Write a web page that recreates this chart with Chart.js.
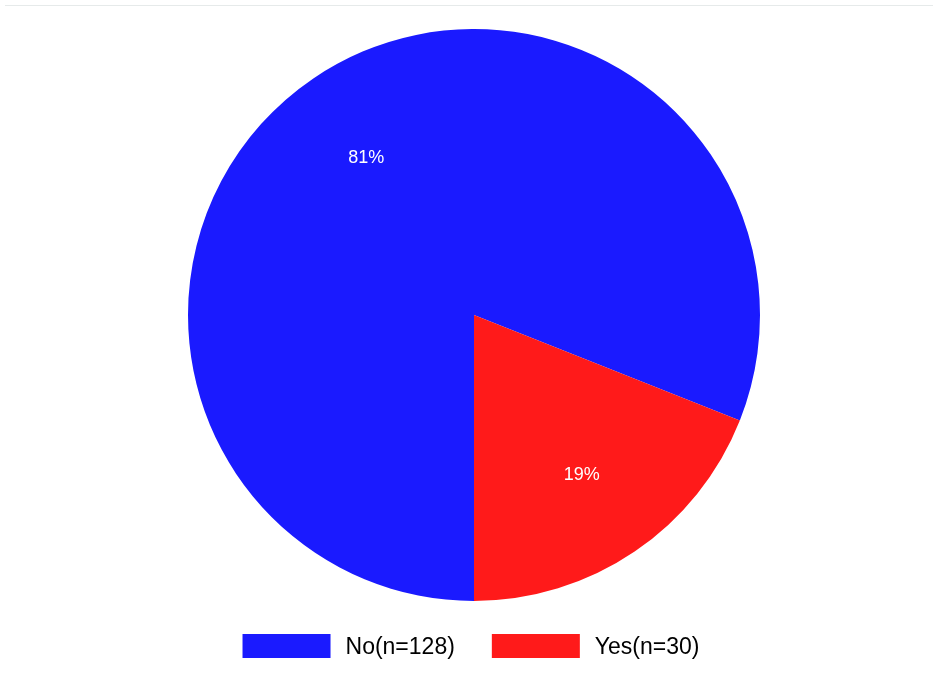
<!DOCTYPE html>
<html>
<head>
<meta charset="utf-8">
<script src="https://cdn.jsdelivr.net/npm/chart.js@4/dist/chart.umd.min.js"></script>
<style>
  html, body { margin: 0; padding: 0; background: #ffffff; }
  #wrap { position: relative; width: 933px; height: 682px; }
  #rule { position: absolute; top: 5px; left: 5px; right: 0; height: 1px; background: #e6eaea; }
  canvas { position: absolute; top: 0; left: 0; }
</style>
</head>
<body>
<div id="wrap">
  <div id="rule"></div>
  <canvas id="c" width="933" height="682"></canvas>
</div>
<script>
// Survey answers and counts
const categories = ['No', 'Yes'];
const counts = [128, 30];
const sliceColors = ['#1a1aff', '#ff1a1a'];

const total = counts.reduce((a, b) => a + b, 0);
const legendLabels = categories.map((c, i) => `${c}(n=${counts[i]})`);
const percentLabels = counts.map(v => Math.round(v / total * 100) + '%');

const FONT = '"Liberation Sans", Arial, sans-serif';

// White percentage text inside each slice
const sliceLabels = {
  id: 'sliceLabels',
  afterDatasetsDraw(chart) {
    const ctx = chart.ctx;
    const meta = chart.getDatasetMeta(0);
    ctx.save();
    ctx.font = '18px ' + FONT;
    ctx.fillStyle = '#ffffff';
    ctx.textAlign = 'center';
    ctx.textBaseline = 'middle';
    meta.data.forEach((arc, i) => {
      const p = arc.getProps(['x', 'y', 'startAngle', 'endAngle', 'outerRadius'], true);
      const mid = (p.startAngle + p.endAngle) / 2;
      const r = p.outerRadius * 0.67;
      ctx.fillText(percentLabels[i], p.x + Math.cos(mid) * r, p.y + Math.sin(mid) * r + 2);
    });
    ctx.restore();
  }
};

// Legend row under the pie
const bottomLegend = {
  id: 'bottomLegend',
  afterDraw(chart) {
    const ctx = chart.ctx;
    const area = chart.chartArea;
    const boxW = 88, boxH = 24, textGap = 15, itemGap = 37;
    ctx.save();
    ctx.font = '23px ' + FONT;
    const widths = legendLabels.map(t => ctx.measureText(t).width);
    let full = 0;
    widths.forEach((w, i) => { full += boxW + textGap + w + (i < widths.length - 1 ? itemGap : 0); });
    let x = (area.left + area.right) / 2 - 3 - full / 2;
    const top = 634;
    ctx.textBaseline = 'middle';
    ctx.textAlign = 'left';
    legendLabels.forEach((t, i) => {
      ctx.fillStyle = sliceColors[i];
      ctx.fillRect(x, top, boxW, boxH);
      ctx.fillStyle = '#000000';
      ctx.fillText(t, x + boxW + textGap, top + boxH / 2 + 2);
      x += boxW + textGap + widths[i] + itemGap;
    });
    ctx.restore();
  }
};

new Chart(document.getElementById('c'), {
  type: 'pie',
  data: {
    labels: legendLabels,
    datasets: [{
      data: counts,
      backgroundColor: sliceColors,
      borderWidth: 0
    }]
  },
  options: {
    responsive: false,
    animation: false,
    rotation: 180,
    layout: { padding: { top: 29, bottom: 81, left: 15, right: 0 } },
    plugins: {
      legend: { display: false },
      tooltip: { enabled: false }
    }
  },
  plugins: [sliceLabels, bottomLegend]
});
</script>
</body>
</html>
